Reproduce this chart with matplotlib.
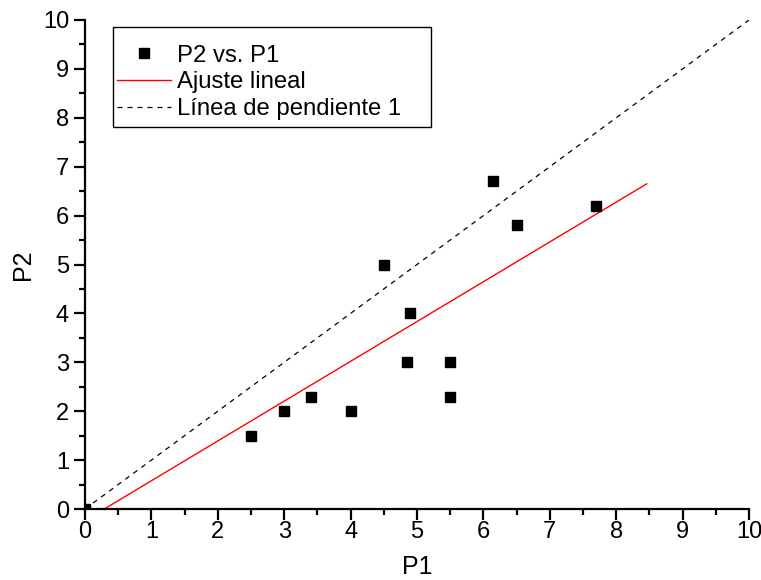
import numpy as np
import matplotlib
matplotlib.use("Agg")
import matplotlib.pyplot as plt
import matplotlib.patches as mpatches
from matplotlib.ticker import MultipleLocator

plt.rcParams["font.family"] = ["Liberation Sans", "DejaVu Sans"]

# data
p1 = [0.0, 2.5, 3.0, 3.4, 4.0, 4.5, 4.9, 4.85, 5.5, 5.5, 6.15, 6.5, 7.7]
p2 = [0.0, 1.5, 2.0, 2.3, 2.0, 5.0, 4.0, 3.0, 3.0, 2.3, 6.7, 5.8, 6.2]

fit_x = [0.29, 8.46]
fit_y = [0.0, 6.65]

ref_x = [0, 10]
ref_y = [0, 10]

W, H = 761, 580
fig = plt.figure(figsize=(W / 100, H / 100), dpi=100)
ax = fig.add_axes([85 / W, 1 - 509 / H, 664 / W, 489 / H])

ax.plot(p1, p2, "s", color="black", markersize=7.5, label="P2 vs. P1",
        zorder=5)
ax.plot(fit_x, fit_y, color="red", linewidth=1.0, label="Ajuste lineal")
ax.plot(ref_x, ref_y, color="black", linewidth=0.9, linestyle=(0, (4, 4)),
        label="Línea de pendiente 1")

ax.set_xlim(0, 10)
ax.set_ylim(0, 10)
ax.xaxis.set_major_locator(MultipleLocator(1))
ax.yaxis.set_major_locator(MultipleLocator(1))
ax.xaxis.set_minor_locator(MultipleLocator(0.5))
ax.yaxis.set_minor_locator(MultipleLocator(0.5))

for side in ["top", "right"]:
    ax.spines[side].set_visible(False)
for side in ["left", "bottom"]:
    ax.spines[side].set_linewidth(1.6)
    ax.spines[side].set_zorder(6)

ax.tick_params(which="major", direction="out", length=8, width=1.6,
               labelsize=17)
ax.tick_params(which="minor", direction="out", length=4.5, width=1.6)
ax.tick_params(axis="x", which="major", pad=1)
ax.tick_params(axis="y", which="major", pad=3.5)

ax.set_xlabel("P1", fontsize=18)
ax.set_ylabel("P2", fontsize=18)
ax.xaxis.set_label_coords(0.5, -0.094)
ax.yaxis.set_label_coords(-0.0753, 0.5)

# legend without its own frame; box drawn separately
leg = ax.legend(loc="upper left", bbox_to_anchor=(117 / W, 1 - 44.5 / H),
                bbox_transform=fig.transFigure, fontsize=17.2, frameon=False,
                borderpad=0, handlelength=2.26, handletextpad=0.25,
                labelspacing=0.205, borderaxespad=0, numpoints=1)
leg.set_zorder(8)
box = mpatches.Rectangle((113 / W, 1 - 127 / H), 318 / W, 100 / H,
                         transform=fig.transFigure, facecolor="white",
                         edgecolor="black", linewidth=1.0, zorder=7)
fig.patches.append(box)
leg.remove()
fig.legends.append(leg)
leg.set_figure(fig)

fig.savefig("out.png", dpi=100)
